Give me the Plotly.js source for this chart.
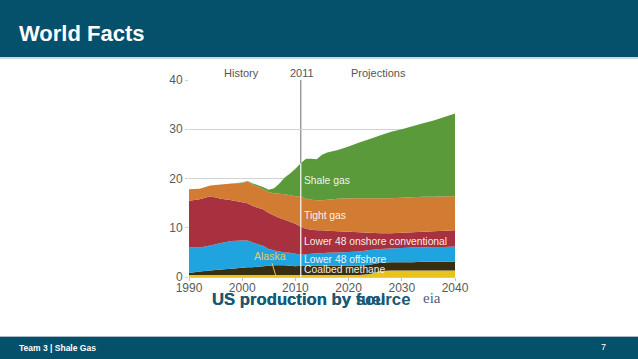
<!DOCTYPE html>
<html>
<head>
<meta charset="utf-8">
<script src="https://cdn.plot.ly/plotly-3.0.1.min.js"></script>
<style>html,body{margin:0;padding:0;background:#fff;}#chart{width:638px;height:359px;}</style>
</head>
<body>
<div id="chart"></div>
<script>
// ---- data (trillion cubic feet) ----
const years    = [1990,1992,1994,1996,1998,2000,2001,2002,2004,2005,2006,2007,2008,2009,2010,2011,2012,2013,2014,2015,2016,2018,2020,2022,2024,2026,2028,2030,2032,2034,2036,2038,2040];
const alaska   = [0.4,0.4,0.4,0.4,0.4,0.4,0.4,0.4,0.4,0.4,0.4,0.4,0.4,0.4,0.4,0.4,0.4,0.4,0.4,0.4,0.4,0.4,0.4,0.4,0.6,1.2,1.3,1.3,1.3,1.3,1.3,1.3,1.3];
const coalbed  = [0.4,0.7,0.9,1.1,1.3,1.5,1.6,1.6,1.8,1.9,2.0,2.0,2.0,1.9,1.8,1.9,1.9,1.9,1.9,1.9,1.9,1.9,1.9,1.9,1.9,1.7,1.7,1.7,1.7,1.8,1.8,1.8,1.8];
const offshore = [5.2,4.9,5.1,5.4,5.6,5.5,5.4,5.0,4.1,3.4,3.0,2.8,2.6,2.6,2.5,2.2,2.3,2.4,2.5,2.5,2.6,2.7,2.8,2.9,3.0,2.8,2.8,2.9,3.0,2.9,3.0,3.0,3.1];
const onshore  = [9.5,9.8,10.0,9.0,8.3,7.8,7.6,7.4,7.4,7.3,7.1,6.8,6.6,6.3,6.1,5.7,5.2,4.9,4.7,4.7,4.5,4.3,4.1,3.9,3.5,3.2,3.1,3.1,3.1,3.2,3.2,3.3,3.3];
const tight    = [2.3,2.1,2.2,2.9,3.4,3.9,4.4,4.4,4.1,4.2,4.5,4.9,5.2,5.4,5.6,6.2,6.1,6.1,6.1,6.1,6.3,6.6,6.8,6.9,7.0,7.1,7.1,7.1,7.1,7.1,7.0,7.0,6.9];
const shale    = [0,0,0,0,0,0.1,0.1,0.2,0.4,0.5,1.0,2.1,3.4,4.4,5.6,6.7,8.1,8.3,8.3,9.2,9.6,9.9,10.5,11.3,12.0,12.8,13.5,13.9,14.4,14.9,15.5,16.1,16.8];

const seriesNames = ['Alaska','Coalbed methane','Lower 48 offshore','Lower 48 onshore conventional','Tight gas','Shale gas'];
const seriesData  = [alaska, coalbed, offshore, onshore, tight, shale];
const seriesColors = ['#E8C21E','#3A2E12','#1FA4DF','#A8313F','#D17B33','#5A9A3B'];

const xTicks = [1990,2000,2010,2020,2030,2040];
const yTicks = [0,10,20,30,40];
const splitYear = 2011;
const periodLabels = ['History','2011','Projections'];

// ---- layout helpers (pixel -> paper, plot area 189..455 x 80..277) ----
const L = 189, R = 455, T = 80, B = 277;
const px = x => (x - L) / (R - L);
const py = y => (B - y) / (B - T);

const traces = seriesNames.map((n, i) => ({
  type: 'scatter', x: years, y: seriesData[i], name: n,
  stackgroup: 'one', mode: 'none', fillcolor: seriesColors[i],
  line: {width: 0}, hoverinfo: 'skip'
}));

const idxSplit = years.indexOf(splitYear);
const totalAtSplit = seriesData.reduce((s, a) => s + a[idxSplit], 0);

const F = 'Liberation Sans, Arial, sans-serif';
const teal = '#05506B';

const inLabels = [
  {t: 'Shale gas', y: 19.5},
  {t: 'Tight gas', y: 12.4},
  {t: 'Lower 48 onshore conventional', y: 7.3},
  {t: 'Lower 48 offshore', y: 3.65},
  {t: 'Coalbed methane', y: 1.6}
];

const annotations = [
  {xref:'paper', yref:'paper', x: px(17), y: py(33), xanchor:'left', yanchor:'middle', showarrow:false,
   text:'<b>World Facts</b>', font:{family:F, size:22, color:'#ffffff'}},
  {xref:'paper', yref:'paper', x: px(241), y: py(73), xanchor:'center', yanchor:'middle', showarrow:false,
   text: periodLabels[0], font:{family:F, size:11, color:'#555'}},
  {xref:'paper', yref:'paper', x: px(302), y: py(73), xanchor:'center', yanchor:'middle', showarrow:false,
   text: periodLabels[1], font:{family:F, size:11, color:'#555'}},
  {xref:'paper', yref:'paper', x: px(378), y: py(73), xanchor:'center', yanchor:'middle', showarrow:false,
   text: periodLabels[2], font:{family:F, size:11, color:'#555'}},
  {xref:'x', yref:'y', x: 2006.3, y: 0.3, ax: -6, ay: -20, showarrow:true, arrowhead:0, arrowwidth:1,
   arrowcolor:'#E2C650', text:'Alaska', font:{family:F, size:10.5, color:'#E6CB55'}},
  {xref:'paper', yref:'paper', x: px(210), y: py(299), xanchor:'left', yanchor:'middle', showarrow:false,
   text:'<b>US production by fuel</b>', font:{family:F, size:16.7, color:'#1B5874'}},
  {xref:'paper', yref:'paper', x: px(210), y: py(299), xanchor:'left', yanchor:'middle', showarrow:false,
   text:'<b>US production by source</b>', font:{family:F, size:16.7, color:'#1B5874'}},
  {xref:'paper', yref:'paper', x: px(432), y: py(298), xanchor:'center', yanchor:'middle', showarrow:false,
   text:'eia', font:{family:'Liberation Serif, serif', size:15, color:'#4d5f7a'}},
  {xref:'paper', yref:'paper', x: px(17), y: py(348), xanchor:'left', yanchor:'middle', showarrow:false,
   text:'<b>Team 3 | Shale Gas</b>', font:{family:F, size:8.5, color:'#ffffff'}},
  {xref:'paper', yref:'paper', x: px(603), y: py(347), xanchor:'center', yanchor:'middle', showarrow:false,
   text:'7', font:{family:F, size:9, color:'#ffffff'}}
].concat(inLabels.map(l => ({
  xref:'x', yref:'y', x: splitYear + 0.25, y: l.y, xanchor:'left', yanchor:'middle', showarrow:false,
  text: l.t, font:{family:F, size:10.3, color:'rgba(255,255,255,0.92)'}
})));

const shapes = [
  {type:'rect', xref:'paper', yref:'paper', x0: px(0), x1: px(638), y0: py(57), y1: py(0), fillcolor: teal, line:{width:0}},
  {type:'line', xref:'paper', yref:'paper', x0: px(0), x1: px(638), y0: py(58), y1: py(58), line:{color:'#9fb3bd', width:1.2}},
  {type:'rect', xref:'paper', yref:'paper', x0: px(0), x1: px(638), y0: py(359), y1: py(337), fillcolor: teal, line:{width:0}},
  {type:'line', xref:'paper', yref:'paper', x0: px(0), x1: px(638), y0: py(336.5), y1: py(336.5), line:{color:'#a9bcc5', width:1}},
  {type:'line', xref:'x', yref:'y', x0: splitYear, x1: splitYear, y0: 0, y1: 40, layer:'below', line:{color:'#9a9a9a', width:1.5}},
  {type:'line', xref:'x', yref:'y', x0: splitYear, x1: splitYear, y0: 0, y1: totalAtSplit, layer:'above', line:{color:'rgba(255,255,255,0.8)', width:1.5}}
];

const layout = {
  width: 638, height: 359,
  margin: {l: L, r: 638 - R, t: T, b: 359 - B, pad: 0},
  paper_bgcolor: '#ffffff', plot_bgcolor: '#ffffff',
  showlegend: false,
  font: {family: F},
  xaxis: {range: [1990, 2040], tickvals: xTicks, ticktext: xTicks.map(String),
          showgrid: false, zeroline: false, showline: true, linecolor: '#c8c8c8', linewidth: 1,
          ticks: 'outside', ticklen: 3, tickcolor: '#c0c0c0', ticklabelstandoff: -3,
          tickfont: {family: F, size: 12, color: '#5a5a5a'}, fixedrange: true},
  yaxis: {range: [0, 40], tickvals: yTicks, ticktext: yTicks.map(String),
          showgrid: true, gridcolor: '#d2d2d2', gridwidth: 1, zeroline: false, showline: false,
          ticks: 'outside', ticklen: 3, tickcolor: '#d0d0d0',
          tickfont: {family: F, size: 12, color: '#5a5a5a'}, fixedrange: true},
  annotations: annotations,
  shapes: shapes
};

Plotly.newPlot('chart', traces, layout, {staticPlot: true, displayModeBar: false});
</script>
</body>
</html>
